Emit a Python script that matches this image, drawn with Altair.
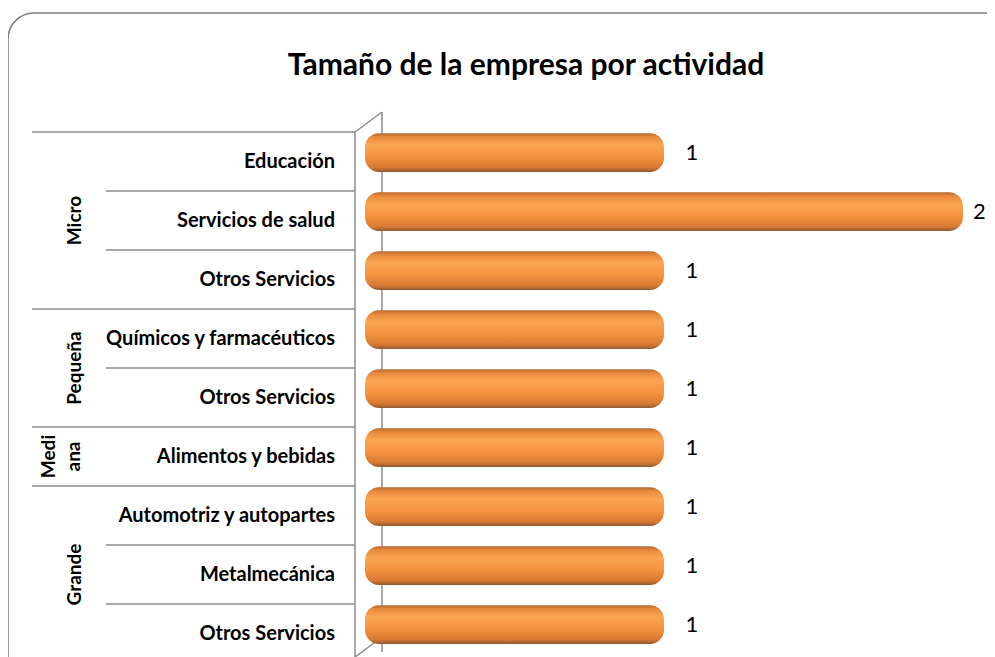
import altair as alt
import pandas as pd

title_text = "Tamaño de la empresa por actividad"
sizes = ["Micro", "Micro", "Micro", "Pequeña", "Pequeña", "Mediana", "Grande", "Grande", "Grande"]
activities = ["Educación", "Servicios de salud", "Otros Servicios",
              "Químicos y farmacéuticos", "Otros Servicios", "Alimentos y bebidas",
              "Automotriz y autopartes", "Metalmecánica", "Otros Servicios"]
counts = [1, 2, 1, 1, 1, 1, 1, 1, 1]
group_names = ["Micro", "Pequeña", "Mediana", "Grande"]
group_display = ["Micro", "Pequeña", "Medi\nana", "Grande"]

FONT = "Lato"
ROW_PX = 59
PLOT_W = 598
PLOT_H = 519

rows = pd.DataFrame({"row": list(range(len(activities))), "size": sizes,
                     "activity": activities, "count": counts})

g_rows = []
for name, disp in zip(group_names, group_display):
    idx = [i for i, s in enumerate(sizes) if s == name]
    g_rows.append({"group": name, "label": disp, "start": min(idx), "end": max(idx) + 1})
groups = pd.DataFrame(g_rows)
groups["mid"] = (groups["start"] + groups["end"]) / 2

outer_b = pd.DataFrame({"b": [float(s) for s in groups["start"]]})
inner_b = pd.DataFrame({"b": [float(i) for i in range(1, len(sizes)) if sizes[i] == sizes[i - 1]]})

xs = alt.Scale(domain=[0, 2], nice=False, zero=False)
ys = alt.Scale(domain=[0, PLOT_H / ROW_PX], reverse=True, nice=False, zero=False)

one = pd.DataFrame({"a": [0]})
GRAY = "#8c8c8c"

border = alt.Chart(one).mark_rect(
    fillOpacity=0, stroke="#7f7f7f", strokeWidth=1.5, cornerRadius=26
).encode(x=alt.value(-357), x2=alt.value(PLOT_W + 60), y=alt.value(-119), y2=alt.value(PLOT_H + 60))

back_wall = alt.Chart(one).mark_rule(color=GRAY, strokeWidth=1.5).encode(
    x=alt.value(17), x2=alt.value(17), y=alt.value(-20), y2=alt.value(PLOT_H + 1))
front_wall = alt.Chart(one).mark_rule(color=GRAY, strokeWidth=1.5).encode(
    x=alt.value(-10), x2=alt.value(-10), y=alt.value(0), y2=alt.value(PLOT_H + 40))
top_diag = alt.Chart(one).mark_rule(color=GRAY, strokeWidth=1.5).encode(
    x=alt.value(-10), x2=alt.value(17), y=alt.value(0), y2=alt.value(-20))
bot_diag = alt.Chart(one).mark_rule(color=GRAY, strokeWidth=1.5).encode(
    x=alt.value(-10), x2=alt.value(17), y=alt.value(PLOT_H + 6), y2=alt.value(PLOT_H - 14))

outer_lines = alt.Chart(outer_b).mark_rule(color=GRAY, strokeWidth=1.5).encode(
    y=alt.Y("b:Q", scale=ys, axis=None), x=alt.value(-333), x2=alt.value(-10))
inner_lines = alt.Chart(inner_b).mark_rule(color=GRAY, strokeWidth=1.5).encode(
    y=alt.Y("b:Q", scale=ys, axis=None), x=alt.value(-259), x2=alt.value(-10))

grad = alt.Gradient(
    gradient="linear", x1=0, x2=0, y1=0, y2=1,
    stops=[
        alt.GradientStop(offset=0.0, color="#b5682f"),
        alt.GradientStop(offset=0.1, color="#e8893b"),
        alt.GradientStop(offset=0.3, color="#fba553"),
        alt.GradientStop(offset=0.6, color="#f59340"),
        alt.GradientStop(offset=0.88, color="#d87a33"),
        alt.GradientStop(offset=1.0, color="#8e5a32"),
    ],
)

bars = alt.Chart(rows).transform_calculate(
    y0="datum.row + 0.02", y1="datum.row + 0.68", x0="0"
).mark_bar(color=grad, cornerRadius=14).encode(
    x=alt.X("x0:Q", scale=xs, axis=None),
    x2="count:Q",
    y=alt.Y("y0:Q", scale=ys, axis=None),
    y2="y1:Q",
)

values = alt.Chart(rows).transform_calculate(
    yc="datum.row + 0.35", xl="min(datum.count + 0.093, 2.055)"
).mark_text(
    font=FONT, fontSize=22, color="#000000", align="center", baseline="middle"
).encode(
    x=alt.X("xl:Q", scale=xs, axis=None),
    y=alt.Y("yc:Q", scale=ys, axis=None),
    text="count:Q",
)

row_labels = alt.Chart(rows).transform_calculate(yc="datum.row + 0.5").mark_text(
    font=FONT, fontSize=20, fontWeight="bold", color="#000000", align="right", baseline="middle"
).encode(
    x=alt.value(-30),
    y=alt.Y("yc:Q", scale=ys, axis=None),
    text="activity:N",
)

single_groups = alt.Chart(groups).transform_filter("indexof(datum.label, '\\n') < 0").mark_text(
    font=FONT, fontSize=19, fontWeight="bold", color="#000000", angle=270,
    align="center", baseline="middle"
).encode(
    x=alt.value(-290),
    y=alt.Y("mid:Q", scale=ys, axis=None),
    text="label:N",
)

multi_groups = alt.Chart(groups).transform_filter("indexof(datum.label, '\\n') >= 0").mark_text(
    font=FONT, fontSize=19, fontWeight="bold", color="#000000", angle=270,
    align="center", baseline="middle", lineBreak="\n", lineHeight=25
).encode(
    x=alt.value(-316),
    y=alt.Y("mid:Q", scale=ys, axis=None),
    text="label:N",
)

title = alt.Chart(one).mark_text(
    text=title_text, font=FONT, fontSize=30, fontWeight="bold", color="#000000",
    align="center", baseline="alphabetic"
).encode(x=alt.value(161), y=alt.value(-57))

chart = alt.layer(
    border, back_wall, outer_lines, inner_lines, front_wall, top_diag, bot_diag,
    bars, values, row_labels, single_groups, multi_groups, title
).properties(
    width=PLOT_W, height=PLOT_H,
    autosize=alt.AutoSizeParams(type="none"),
    padding={"left": 357, "top": 124, "right": 24, "bottom": 6},
    background="white",
).configure_view(stroke=None)

chart.save("out.html", embed_options={"renderer": "svg", "actions": False})
